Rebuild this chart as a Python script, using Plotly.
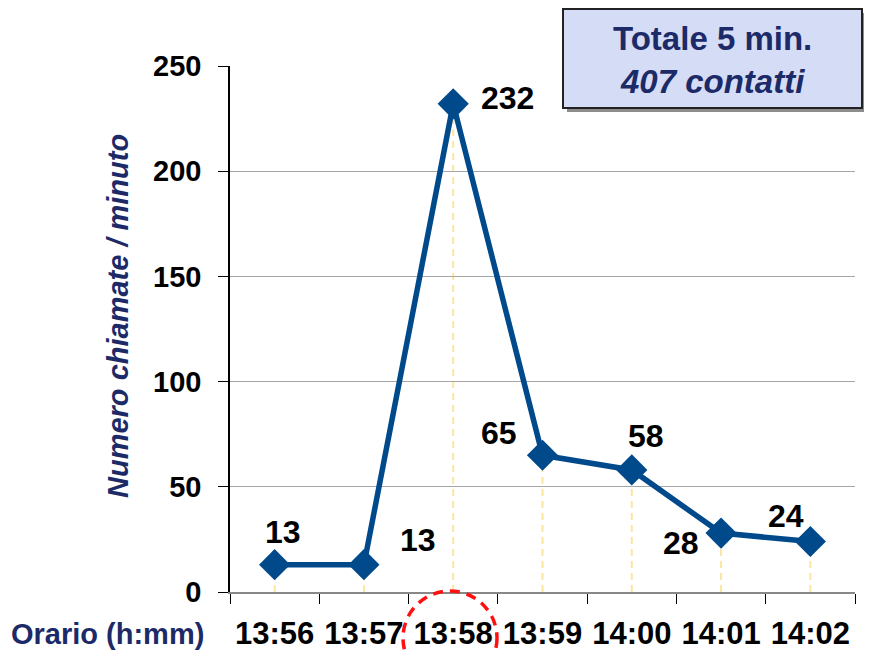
import plotly.graph_objects as go

categories = ["13:56", "13:57", "13:58", "13:59", "14:00", "14:01", "14:02"]
calls = [13, 13, 232, 65, 58, 28, 24]
y_ticks = [0, 50, 100, 150, 200, 250]
# label offsets (px) for each data label
label_dx = [8, 54, 54, -44, 14, -40, -24]
label_dy = [33, 25, 6, 22, 34, -10, 26]

FONT = "Arial, Liberation Sans, sans-serif"
NAVY = "#1c2a68"
LINE = "#004a8c"

# page body has an 8px margin: build the figure in page coordinates shifted by 8
OFF = 8
W, H = 872 - OFF, 653 - OFF
L, R, T, B = 230 - OFF, 17, 66 - OFF, 61
pw, ph = W - L - R, H - T - B

def px(x):
    return (x - OFF - L) / pw

def py(y):
    return (H - B - (y - OFF)) / ph

fig = go.Figure()
fig.add_trace(go.Scatter(
    x=categories, y=calls, mode="lines+markers",
    line=dict(color=LINE, width=5.5),
    marker=dict(symbol="diamond", size=24, color=LINE),
    hoverinfo="x+y", showlegend=False, cliponaxis=False,
))

shapes = []
for c, v in zip(categories, calls):
    shapes.append(dict(type="line", xref="x", yref="y", x0=c, x1=c, y0=0, y1=v,
                       line=dict(color="#fbe6a2", width=2, dash="7px,5px"), layer="below"))

# red dashed circle around 13:58 label
cx, cy, r = 450, 638, 47
shapes.append(dict(type="circle", xref="paper", yref="paper",
                   x0=px(cx - r), x1=px(cx + r), y0=py(cy + r), y1=py(cy - r),
                   line=dict(color="#ff1010", width=3.5, dash="10px,7px"), layer="above"))

# box with shadow
bx0, bx1, by0, by1 = 563, 862, 9, 108
shapes.append(dict(type="rect", xref="paper", yref="paper",
                   x0=px(bx0 + 4), x1=px(bx1 + 4), y0=py(by1 + 4), y1=py(by0 + 4),
                   fillcolor="#8c8c8c", line=dict(width=0), layer="above"))
shapes.append(dict(type="rect", xref="paper", yref="paper",
                   x0=px(bx0), x1=px(bx1), y0=py(by1), y1=py(by0),
                   fillcolor="#d5dcf5", line=dict(color="#222222", width=2), layer="above"))

annotations = []
for c, v, dx, dy in zip(categories, calls, label_dx, label_dy):
    annotations.append(dict(x=c, y=v, xref="x", yref="y", text=str(v),
                            showarrow=False, xshift=dx, yshift=dy,
                            xanchor="center", yanchor="middle",
                            font=dict(family=FONT, size=32, color="black", weight="bold")))

annotations.append(dict(x=px((bx0 + bx1) / 2), y=py((by0 + by1) / 2 + 1), xref="paper", yref="paper",
                        text="Totale 5 min.<br><i>407 contatti</i>",
                        showarrow=False, align="center", xanchor="center", yanchor="middle",
                        font=dict(family=FONT, size=33, color=NAVY, weight="bold")))

annotations.append(dict(x=px(118), y=py(316), xref="paper", yref="paper",
                        text="<i>Numero chiamate / minuto</i>", textangle=-90,
                        xanchor="center", yanchor="middle",
                        showarrow=False, font=dict(family=FONT, size=29, color=NAVY, weight="bold")))
annotations.append(dict(x=px(107), y=py(634), xref="paper", yref="paper",
                        text="Orario (h:mm)", xanchor="center", yanchor="middle",
                        showarrow=False, font=dict(family=FONT, size=29, color=NAVY, weight="bold")))

fig.update_layout(
    width=W, height=H,
    margin=dict(l=L, r=R, t=T, b=B, autoexpand=False),
    paper_bgcolor="white", plot_bgcolor="white",
    font=dict(family=FONT),
    shapes=shapes, annotations=annotations,
    xaxis=dict(type="category", categoryorder="array", categoryarray=categories,
               range=[-0.5, len(categories) - 0.5], automargin=False,
               tickson="boundaries", ticks="outside", ticklen=10, tickcolor="black",
               showline=True, linecolor="#888888", linewidth=1.5,
               showgrid=False, zeroline=False,
               ticklabelstandoff=13,
               tickfont=dict(family=FONT, size=31, color="black", weight="bold")),
    yaxis=dict(range=[0, 250], tickvals=y_ticks, automargin=False,
               ticks="outside", ticklen=10, tickcolor="black",
               showline=True, linecolor="black", linewidth=1.5,
               showgrid=True, gridcolor="#a6a6a6", gridwidth=1,
               zeroline=False, ticklabelstandoff=11,
               tickfont=dict(family=FONT, size=29, color="black", weight="bold")),
)

fig.write_html("out.html")
